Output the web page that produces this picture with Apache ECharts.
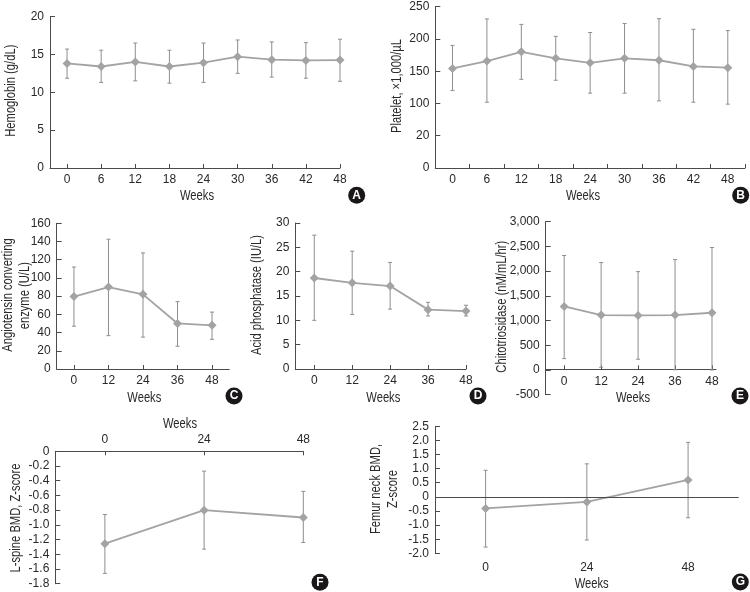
<!DOCTYPE html>
<html>
<head>
<meta charset="utf-8">
<style>html,body{margin:0;background:#fff}#main{width:750px;height:592px}</style>
<script src="https://cdn.jsdelivr.net/npm/echarts@6/dist/echarts.min.js"></script>
</head>
<body>
<div id="main"></div>
<script>
// weeks
var weeks9 = [0, 6, 12, 18, 24, 30, 36, 42, 48];
var weeks5 = [0, 12, 24, 36, 48];
var weeks3 = [0, 24, 48];

// A hemoglobin
var hbMean = [13.8, 13.4, 14, 13.4, 13.9, 14.7, 14.3, 14.2, 14.25];
var hbUpper = [15.7, 15.55, 16.5, 15.55, 16.5, 16.9, 16.65, 16.55, 17];
var hbLower = [11.85, 11.3, 11.5, 11.2, 11.3, 12.5, 12, 11.85, 11.45];
// B platelet
var pltMean = [154.4, 165.8, 180, 170, 163, 170, 167, 157.5, 155.5];
var pltUpper = [190, 231, 222.6, 204, 210, 224, 231.4, 215, 213];
var pltLower = [120, 102, 137.4, 136, 116, 116, 104, 102, 99];
var pltTicks = ['0', '20', '100', '150', '200', '250']; // second label really is 20 in the figure
// C ACE
var aceMean = [79.5, 90, 82, 50, 48];
var aceUpper = [112, 142.5, 127.5, 74, 62.5];
var aceLower = [47, 36.6, 35, 25, 32.6];
// D acid phosphatase
var acpMean = [18.7, 17.7, 17.05, 12.2, 11.9];
var acpUpper = [27.5, 24.2, 21.9, 13.7, 13.1];
var acpLower = [10, 11.2, 12.3, 10.9, 10.9];
// E chitotriosidase
var chitMean = [1286, 1110, 1104, 1110, 1158];
var chitUpper = [2316, 2173, 1990, 2234, 2478];
var chitLower = [230, 54, 217, 5, 0];
// F L-spine
var lspMean = [-1.256, -0.8, -0.9];
var lspUpper = [-0.86, -0.27, -0.545];
var lspLower = [-1.66, -1.33, -1.24];
// G femur neck
var femMean = [-0.41, -0.18, 0.6];
var femUpper = [0.94, 1.17, 1.93];
var femLower = [-1.78, -1.53, -0.74];

var FONT = '"Liberation Sans", sans-serif';
var TEXT = '#2b2829';
var AXIS = '#4d4a4b';
var LINE = '#a3a3a3';
var BAR = '#8e8e8e';

var option = {
    animation: false,
    backgroundColor: '#fff',
    grid: [], xAxis: [], yAxis: [], series: [], graphic: []
};

function weekAxis(idx, p, show) {
    return {
        type: 'value', gridIndex: idx, min: p.xMin, max: p.xMax, show: show,
        position: p.xTop ? 'top' : 'bottom',
        axisLine: { show: !p.zeroLine, onZero: false, lineStyle: { color: AXIS, width: 1 } },
        splitLine: { show: false },
        axisTick: { show: !p.zeroLine, inside: true, length: 4, lineStyle: { color: AXIS }, customValues: p.tickWeeks || p.weeks },
        axisLabel: {
            color: TEXT, fontFamily: FONT, fontSize: 12, margin: p.labelMargin || 6,
            customValues: p.weeks, formatter: function (v) { return String(v); }
        }
    };
}

function addPanel(p) {
    var idx = option.grid.length;
    option.grid.push({ left: p.left, top: p.top, width: p.right - p.left, height: p.bottom - p.top });
    // E: the week axis sits at y=0 above the bottom of the value axis, so it gets its own grid
    option.xAxis.push(weekAxis(idx, p, !p.axisBottom));
    option.yAxis.push({
        type: 'value', gridIndex: idx, min: p.yMin, max: p.yMax, interval: p.yStep,
        axisLine: { show: true, onZero: false, lineStyle: { color: AXIS, width: 1 } },
        splitLine: { show: false },
        axisTick: { show: true, inside: true, length: 5, lineStyle: { color: AXIS } },
        axisLabel: { color: TEXT, fontFamily: FONT, fontSize: 12, margin: 6, showMinLabel: true, showMaxLabel: true, formatter: p.yFormat }
    });
    if (p.zeroLine) {
        // zero line of G sits apart from the week labels at the bottom
        option.series.push({
            type: 'line', xAxisIndex: idx, yAxisIndex: idx, data: [], silent: true,
            markLine: {
                silent: true, symbol: 'none', label: { show: false },
                lineStyle: { color: AXIS, width: 1, type: 'solid' },
                data: [{ yAxis: 0 }]
            }
        });
    }
    option.series.push({
        type: 'custom', xAxisIndex: idx, yAxisIndex: idx, clip: false, silent: true,
        encode: { x: 0, y: [1, 2] },
        data: p.weeks.map(function (w, i) { return [w, p.lower[i], p.upper[i]]; }),
        renderItem: function (params, api) {
            var lo = api.coord([api.value(0), api.value(1)]);
            var hi = api.coord([api.value(0), api.value(2)]);
            var st = { stroke: BAR, lineWidth: 1, fill: null };
            return {
                type: 'group',
                children: [
                    { type: 'line', shape: { x1: lo[0], y1: lo[1], x2: hi[0], y2: hi[1] }, style: st },
                    { type: 'line', shape: { x1: lo[0] - 2, y1: lo[1], x2: lo[0] + 2, y2: lo[1] }, style: st },
                    { type: 'line', shape: { x1: hi[0] - 2, y1: hi[1], x2: hi[0] + 2, y2: hi[1] }, style: st }
                ]
            };
        }
    });
    option.series.push({
        type: 'line', xAxisIndex: idx, yAxisIndex: idx, clip: false, silent: true,
        data: p.weeks.map(function (w, i) { return [w, p.mean[i]]; }),
        symbol: 'diamond', symbolSize: 9,
        lineStyle: { color: LINE, width: 1.8 },
        itemStyle: { color: LINE }
    });
    if (p.axisBottom) {
        var extra = option.grid.length;
        option.grid.push({ left: p.left, top: p.top, width: p.right - p.left, height: p.axisBottom - p.top });
        option.xAxis.push(weekAxis(extra, p, true));
        option.yAxis.push({ type: 'value', gridIndex: extra, show: false, min: 0, max: p.yMax });
    }
}

function label(text, x, y, rotated) {
    option.graphic.push({
        type: 'text', x: x, y: y, rotation: rotated ? Math.PI / 2 : 0, scaleX: 0.8,
        style: { text: text, font: '14px ' + FONT, fill: TEXT, align: 'center', verticalAlign: 'middle' }
    });
}

function badge(letter, x, y) {
    option.graphic.push({ type: 'circle', shape: { cx: x, cy: y, r: 8.5 }, style: { fill: '#1a1718' } });
    option.graphic.push({
        type: 'text', x: x, y: y,
        style: { text: letter, font: 'bold 12px ' + FONT, fill: '#fff', align: 'center', verticalAlign: 'middle' }
    });
}

addPanel({
    left: 50, right: 340, top: 16.5, bottom: 168, xMin: -3, xMax: 48, weeks: weeks9,
    yMin: 0, yMax: 20, yStep: 5, mean: hbMean, upper: hbUpper, lower: hbLower
});
addPanel({
    left: 435.3, right: 745, top: 6.7, bottom: 168, xMin: -3, xMax: 51, weeks: weeks9,
    tickWeeks: weeks9.map(function (w) { return w + 3; }),
    yMin: 0, yMax: 250, yStep: 50, mean: pltMean, upper: pltUpper, lower: pltLower,
    yFormat: function (v) { return pltTicks[v / 50]; }
});
addPanel({
    left: 56.7, right: 229.3, top: 223.3, bottom: 369, xMin: -6, xMax: 54, weeks: weeks5,
    yMin: 0, yMax: 160, yStep: 20, mean: aceMean, upper: aceUpper, lower: aceLower
});
addPanel({
    left: 295.3, right: 466, top: 223, bottom: 369, xMin: -6, xMax: 48, weeks: weeks5,
    yMin: 0, yMax: 30, yStep: 5, mean: acpMean, upper: acpUpper, lower: acpLower
});
addPanel({
    left: 545.7, right: 716, top: 221.7, bottom: 394.7, axisBottom: 369.3, xMin: -6, xMax: 49.3, weeks: weeks5,
    yMin: -500, yMax: 3000, yStep: 500, mean: chitMean, upper: chitUpper, lower: chitLower,
    yFormat: function (v) { return v.toLocaleString('en-US'); }
});
addPanel({
    left: 55.3, right: 303.3, top: 451.3, bottom: 583.7, xMin: -12, xMax: 48, weeks: weeks3, xTop: true,
    yMin: -1.8, yMax: 0, yStep: 0.2, mean: lspMean, upper: lspUpper, lower: lspLower,
    yFormat: function (v) { return Math.abs(v) < 1e-6 ? '0' : v.toFixed(1); }
});
addPanel({
    left: 435, right: 738.7, top: 426.3, bottom: 553.3, xMin: -12, xMax: 60, weeks: weeks3, zeroLine: true, labelMargin: 8,
    yMin: -2, yMax: 2.5, yStep: 0.5, mean: femMean, upper: femUpper, lower: femLower,
    yFormat: function (v) { return Math.abs(v) < 1e-6 ? '0' : v.toFixed(1); }
});

label('Weeks', 197, 196);
label('Weeks', 583, 196);
label('Weeks', 144.3, 397.7);
label('Weeks', 383.3, 397.7);
label('Weeks', 633, 397.7);
label('Weeks', 180, 424);
label('Weeks', 591.7, 583.7);

label('Hemoglobin (g/dL)', 11, 90.7, true);
label('Platelet, \u00d71,000/\u00b5L', 396.7, 86, true);
label('Angiotensin converting', 8, 295, true);
label('enzyme (U/L)', 25, 295.7, true);
label('Acid phosphatase (IU/L)', 257.3, 295, true);
label('Chitotriosidase (nM/mL/hr)', 502, 306.7, true);
label('L-spine BMD, Z-score', 16, 518, true);
label('Femur neck BMD,', 376, 489, true);
label('Z-score', 392.7, 489, true);

badge('A', 356.7, 195.3);
badge('B', 740.7, 195.3);
badge('C', 234, 396);
badge('D', 478, 396);
badge('E', 740, 396);
badge('F', 320, 582.3);
badge('G', 740.3, 582);

var myChart = echarts.init(document.getElementById('main'), null, { renderer: 'canvas' });
myChart.setOption(option);
</script>
</body>
</html>
